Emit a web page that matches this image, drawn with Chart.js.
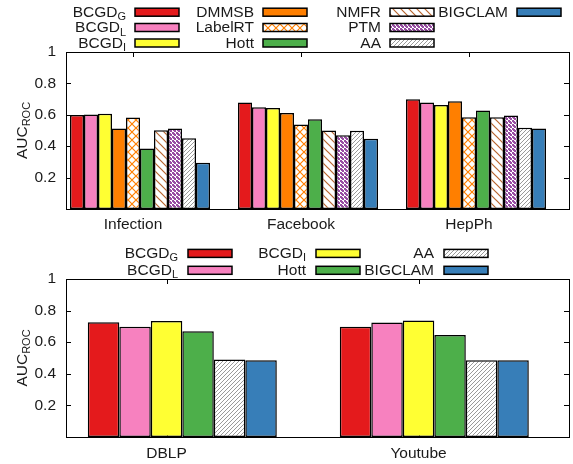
<!DOCTYPE html>
<html><head><meta charset="utf-8">
<script src="https://cdn.jsdelivr.net/npm/chart.js@4.4.1/dist/chart.umd.min.js"></script>
<style>
html,body{margin:0;padding:0;background:#fff;}
#wrap{position:relative;width:573px;height:464px;overflow:hidden;background:#fff;}
canvas{position:absolute;left:0;}
#c1{top:0;} #c2{top:240px;}
</style></head><body>
<div id="wrap"><canvas id="c1" width="573" height="240"></canvas><canvas id="c2" width="573" height="224"></canvas></div>
<script>
// ---------- DATA ----------
const topCategories = ['Infection', 'Facebook', 'HepPh'];
const topMethods = ['BCGD_G', 'BCGD_L', 'BCGD_I', 'DMMSB', 'LabelRT', 'Hott', 'NMFR', 'PTM', 'AA', 'BIGCLAM'];
const topBCGD_G  = [0.598, 0.678, 0.699];
const topBCGD_L  = [0.602, 0.648, 0.678];
const topBCGD_I  = [0.606, 0.644, 0.663];
const topDMMSB   = [0.513, 0.612, 0.687];
const topLabelRT = [0.583, 0.538, 0.585];
const topHott    = [0.386, 0.572, 0.627];
const topNMFR    = [0.502, 0.500, 0.585];
const topPTM     = [0.513, 0.470, 0.595];
const topAA      = [0.451, 0.498, 0.517];
const topBIGCLAM = [0.295, 0.447, 0.513];

const bottomCategories = ['DBLP', 'Youtube'];
const bottomMethods = ['BCGD_G', 'BCGD_L', 'BCGD_I', 'Hott', 'AA', 'BIGCLAM'];
const bottomBCGD_G  = [0.727, 0.698];
const bottomBCGD_L  = [0.698, 0.725];
const bottomBCGD_I  = [0.734, 0.738];
const bottomHott    = [0.670, 0.645];
const bottomAA      = [0.490, 0.486];
const bottomBIGCLAM = [0.486, 0.486];

const yTickValues = [0, 0.2, 0.4, 0.6, 0.8, 1];
const yTitleMain = 'AUC';
const yTitleSub = 'ROC';

// ---------- STYLES ----------
const FONT = '"Liberation Sans", Arial, sans-serif';
const TEXT = '#1a1a1a';

function makePattern(kind) {
  const c = document.createElement('canvas');
  const ctx = c.getContext('2d');
  if (kind === 'cross') {
    c.width = 8; c.height = 8;
    ctx.fillStyle = '#fff'; ctx.fillRect(0, 0, 8, 8);
    ctx.strokeStyle = '#ff7f00'; ctx.lineWidth = 1.2;
    ctx.beginPath();
    ctx.moveTo(-1, -1); ctx.lineTo(9, 9);
    ctx.moveTo(-1, 9); ctx.lineTo(9, -1);
    ctx.stroke();
  } else if (kind === 'back') {
    c.width = 8; c.height = 8;
    ctx.fillStyle = '#fff'; ctx.fillRect(0, 0, 8, 8);
    ctx.strokeStyle = '#b8652f'; ctx.lineWidth = 1.2;
    ctx.beginPath();
    ctx.moveTo(-1, -1); ctx.lineTo(9, 9);
    ctx.moveTo(-1, 7); ctx.lineTo(1, 9);
    ctx.moveTo(7, -1); ctx.lineTo(9, 1);
    ctx.stroke();
  } else if (kind === 'fwd') {
    c.width = 4; c.height = 4;
    ctx.fillStyle = '#fff'; ctx.fillRect(0, 0, 4, 4);
    ctx.strokeStyle = '#9a9a9a'; ctx.lineWidth = 1;
    ctx.beginPath();
    ctx.moveTo(-1, 5); ctx.lineTo(5, -1);
    ctx.moveTo(-1, 1); ctx.lineTo(1, -1);
    ctx.moveTo(3, 5); ctx.lineTo(5, 3);
    ctx.stroke();
  } else if (kind === 'check') {
    c.width = 4; c.height = 4;
    ctx.fillStyle = '#fff'; ctx.fillRect(0, 0, 4, 4);
    ctx.fillStyle = '#984ea3';
    ctx.fillRect(0, 0, 2, 2); ctx.fillRect(2, 2, 2, 2);
    ctx.fillRect(1, 1, 2, 2); ctx.fillRect(3, 3, 1, 1);
  }
  return document.createElement('canvas').getContext('2d').createPattern(c, 'repeat');
}

const fills = {
  BCGD_G: '#e41a1c',
  BCGD_L: '#f781bf',
  BCGD_I: '#ffff33',
  DMMSB: '#ff7f00',
  LabelRT: makePattern('cross'),
  Hott: '#4daf4a',
  NMFR: makePattern('back'),
  PTM: makePattern('check'),
  AA: makePattern('fwd'),
  BIGCLAM: '#377eb8'
};

// ---------- HELPERS ----------
function drawSubText(ctx, main, sub, rightX, baseY, mainSize, subSize, subDrop) {
  ctx.font = mainSize + 'px ' + FONT;
  const w1 = ctx.measureText(main).width;
  ctx.font = subSize + 'px ' + FONT;
  const w2 = sub ? ctx.measureText(sub).width : 0;
  const x0 = rightX - w1 - w2;
  ctx.textAlign = 'left';
  ctx.textBaseline = 'alphabetic';
  ctx.fillStyle = TEXT;
  ctx.font = mainSize + 'px ' + FONT;
  ctx.fillText(main, x0, baseY);
  if (sub) {
    ctx.font = subSize + 'px ' + FONT;
    ctx.fillText(sub, x0 + w1, baseY + subDrop);
  }
}

function frameAndLegendPlugin(cfg) {
  return {
    id: 'gp',
    beforeDatasetsDraw(chart) {
      const ctx = chart.ctx;
      const a = chart.chartArea;
      const ys = chart.scales.y, xs = chart.scales.x;
      ctx.save();
      ctx.strokeStyle = '#000';
      ctx.lineWidth = 1;
      ctx.beginPath();
      yTickValues.forEach(v => {
        const py = Math.round(ys.getPixelForValue(v)) + 0.5;
        ctx.moveTo(a.left, py); ctx.lineTo(a.left + 5, py);
        ctx.moveTo(a.right, py); ctx.lineTo(a.right - 5, py);
      });
      xs.ticks.forEach(t => {
        const px = Math.round(xs.getPixelForValue(t.value)) + 0.5;
        ctx.moveTo(px, a.top); ctx.lineTo(px, a.top + 5);
        ctx.moveTo(px, a.bottom); ctx.lineTo(px, a.bottom - 5);
      });
      ctx.stroke();
      ctx.strokeRect(Math.round(a.left) + 0.5, Math.round(a.top) + 0.5,
                     Math.round(a.right - a.left), Math.round(a.bottom - a.top));
      ctx.restore();
    },
    afterDraw(chart) {
      const ctx = chart.ctx;
      const a = chart.chartArea;
      ctx.save();
      const cy = (a.top + a.bottom) / 2;
      ctx.translate(cfg.yTitleX, cy);
      ctx.rotate(-Math.PI / 2);
      ctx.font = '15.5px ' + FONT;
      const w1 = ctx.measureText(yTitleMain).width;
      ctx.font = '11px ' + FONT;
      const w2 = ctx.measureText(yTitleSub).width;
      const x0 = -(w1 + w2) / 2;
      ctx.fillStyle = TEXT;
      ctx.textBaseline = 'alphabetic';
      ctx.textAlign = 'left';
      ctx.font = '15.5px ' + FONT;
      ctx.fillText(yTitleMain, x0, 0);
      ctx.font = '11px ' + FONT;
      ctx.fillText(yTitleSub, x0 + w1, 3);
      ctx.restore();

      ctx.save();
      chart.data.datasets.forEach((ds, i) => {
        const col = Math.floor(i / cfg.rowsPerCol);
        const row = i % cfg.rowsPerCol;
        const bx = cfg.colX[col];
        const cyR = cfg.rowY[row];
        const parts = ds.label.split('_');
        drawSubText(ctx, parts[0], parts[1] || '', bx - cfg.textGap, cyR + 4.5, 15.5, 11, 3.5);
        ctx.fillStyle = ds.backgroundColor;
        ctx.fillRect(bx, cyR - 4, 44, 8);
        ctx.strokeStyle = '#000';
        ctx.lineWidth = 1.5;
        ctx.strokeRect(bx, cyR - 4, 44, 8);
      });
      ctx.restore();
    }
  };
}

function buildChart(canvas, cats, methods, series, cfg) {
  const nM = methods.length;
  const catPct = nM / (nM + 2);
  const tickOff = -0.5 * catPct / nM;
  const datasets = methods.map((m, k) => ({
    label: m,
    data: series[k].map((v, i) => ({ x: i, y: v })),
    backgroundColor: fills[m],
    borderColor: '#000',
    borderWidth: 1.5,
    borderSkipped: false,
    categoryPercentage: catPct,
    barPercentage: 1
  }));
  return new Chart(canvas, {
    type: 'bar',
    data: { datasets },
    options: {
      responsive: false,
      devicePixelRatio: 1,
      animation: false,
      events: [],
      layout: { padding: { top: cfg.padTop, right: 4, left: 0, bottom: 0 } },
      plugins: { legend: { display: false }, tooltip: { enabled: false } },
      scales: {
        x: {
          type: 'linear',
          offset: false,
          min: cfg.xmin, max: cfg.xmax,
          grid: { display: false, drawTicks: false, offset: false },
          border: { display: false },
          afterBuildTicks: (s) => { s.ticks = cats.map((c, i) => ({ value: i + tickOff })); },
          afterFit: (s) => { s.height = cfg.xHeight; },
          ticks: {
            autoSkip: false, maxRotation: 0, padding: cfg.xPad,
            color: TEXT, font: { family: FONT, size: 15.5 },
            callback: (v, i) => cats[i]
          }
        },
        y: {
          type: 'linear',
          min: 0, max: 1,
          grid: { display: false, drawTicks: false },
          border: { display: false },
          afterBuildTicks: (s) => { s.ticks = yTickValues.map(v => ({ value: v })); },
          afterFit: (s) => { s.width = 66; },
          ticks: {
            padding: 10, color: TEXT, font: { family: FONT, size: 15.5 },
            callback: (v) => (v === 0 ? '' : (v === 1 ? '1' : v.toFixed(1)))
          }
        }
      }
    },
    plugins: [frameAndLegendPlugin(cfg)]
  });
}

buildChart(document.getElementById('c1'), topCategories, topMethods,
  [topBCGD_G, topBCGD_L, topBCGD_I, topDMMSB, topLabelRT, topHott, topNMFR, topPTM, topAA, topBIGCLAM],
  { padTop: 52, xHeight: 31, xPad: 6, xmin: -74 / 168, xmax: 429 / 168,
    yTitleX: 27, rowsPerCol: 3, colX: [135, 263, 390, 517], rowY: [12.2, 27.5, 43], textGap: 9 });

buildChart(document.getElementById('c2'), bottomCategories, bottomMethods,
  [bottomBCGD_G, bottomBCGD_L, bottomBCGD_I, bottomHott, bottomAA, bottomBIGCLAM],
  { padTop: 39, xHeight: 27, xPad: 7, xmin: -116.3 / 252, xmax: 386.7 / 252,
    yTitleX: 27, rowsPerCol: 2, colX: [188, 316, 444], rowY: [13.4, 30.3], textGap: 10 });
</script>
</body></html>
